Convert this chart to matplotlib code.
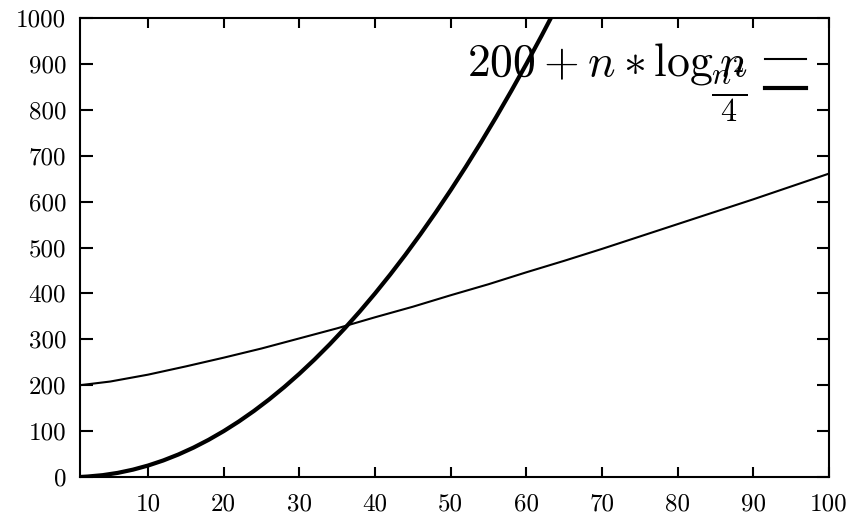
import matplotlib
matplotlib.use("Agg")
import matplotlib.pyplot as plt

plt.rcParams["font.family"] = "cmr10"
plt.rcParams["mathtext.fontset"] = "cm"
plt.rcParams["axes.formatter.use_mathtext"] = True

# values
n_log = [1, 5, 10, 15, 20, 25, 30, 35, 40, 45, 50, 55, 60, 65, 70, 75, 80, 85, 90, 95, 100]
y_log = [200, 208, 223, 241, 260, 280, 302, 324, 348, 371, 396, 420, 446, 471, 497, 524,
         551, 578, 605, 633, 661]

n_sq = [1, 2, 4, 6, 8, 10, 12, 14, 16, 18, 20, 22, 24, 26, 28, 30, 32, 34, 36, 38, 40,
        42, 44, 46, 48, 50, 52, 54, 56, 58, 60, 62, 64]
y_sq = [0, 1, 4, 9, 16, 25, 36, 49, 64, 81, 100, 121, 144, 169, 196, 225, 256, 289, 324,
        361, 400, 441, 484, 529, 576, 625, 676, 729, 784, 841, 900, 961, 1024]

x_ticks = [10, 20, 30, 40, 50, 60, 70, 80, 90, 100]
y_ticks = [0, 100, 200, 300, 400, 500, 600, 700, 800, 900, 1000]

fig = plt.figure(figsize=(8.54, 5.23), dpi=100)
ax = fig.add_axes([80 / 854, 1 - 477 / 523, (829 - 80) / 854, (477 - 18) / 523])

ax.plot(n_log, y_log, color="black", lw=1.5, label=r"$200 + n * \log n$")
ax.plot(n_sq, y_sq, color="black", lw=3, label=r"$\frac{n^2}{4}$")

ax.set_xlim(1, 100)
ax.set_ylim(0, 1000)
ax.set_xticks(x_ticks)
ax.set_yticks(y_ticks)
ax.set_xticklabels([str(t) for t in x_ticks])
ax.set_yticklabels([str(t) for t in y_ticks])
ax.tick_params(axis="both", direction="in", top=True, right=True, labelsize=18, width=1.5)
ax.tick_params(axis="x", length=7, pad=12)
ax.tick_params(axis="y", length=9, pad=10)
for s in ax.spines.values():
    s.set_linewidth(1.5)

ax.legend(loc="upper right", frameon=False, markerfirst=False, fontsize=33,
          handlelength=0.9, labelspacing=-0.68, handletextpad=0.37,
          borderaxespad=0.3, borderpad=0.2)

fig.savefig("out.png", dpi=100)
